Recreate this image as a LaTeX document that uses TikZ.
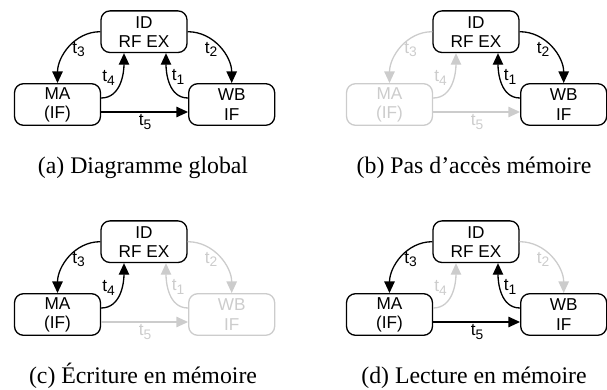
\documentclass[tikz,border=0pt]{standalone}
\usepackage{fontspec}
\setmainfont{Liberation Serif}
\setsansfont{Liberation Sans}
\usetikzlibrary{arrows.meta,calc}
\definecolor{dimgray}{HTML}{CCCCCC}
\newcommand\tsub[1]{t\raisebox{-0.4ex}{\fontsize{6.9}{7}\selectfont #1}}
\tikzset{
  stbox/.style={draw, rounded corners=4.5pt, line width=0.65pt, minimum width=43pt, minimum height=20.8pt,
    inner sep=0pt, align=center, font=\sffamily\fontsize{8.6}{9.6}\selectfont},
  conn/.style={line width=0.65pt, -{Triangle[length=5.8pt,width=5.2pt]}},
  lab/.style={font=\sffamily\fontsize{8.6}{9.6}\selectfont, inner sep=0pt},
  captext/.style={font=\fontsize{11.9}{14}\selectfont, anchor=base, inner sep=0pt},
  dimmed/.style={color=dimgray},
  nID/.style={}, nMA/.style={}, nWB/.style={},
  k1/.style={}, k2/.style={}, k3/.style={}, k4/.style={}, k5/.style={}
}
\newcommand\panelbody[1]{%
  \node[stbox, nID] (#1ID) at (144,-31.7) {ID\\RF EX};
  \node[stbox, nMA] (#1MA) at (57.5,-104.5) {MA\\(IF)};
  \node[stbox, nWB] (#1WB) at (231.7,-104.5) {WB\\IF};
  \draw[conn, k3] (#1ID.west) to[out=180,in=90] (#1MA.north);
  \draw[conn, k2] (#1ID.east) to[out=0,in=90] (#1WB.north);
  \draw[conn, k4] ($(#1MA.east)+(0,6.5)$) to[out=0,in=-90] ($(#1ID.south)+(-20,0)$);
  \draw[conn, k1] ($(#1WB.west)+(0,6.5)$) to[out=180,in=-90] ($(#1ID.south)+(22,0)$);
  \draw[conn, k5] ($(#1MA.east)+(0,-7.5)$) -- ($(#1WB.west)+(0,-7.5)$);
  \node[lab, k3] (#1L3) at (78.5,-49.5) {\tsub{3}};
  \node[lab, k2] (#1L2) at (211,-49.5) {\tsub{2}};
  \node[lab, k4] (#1L4) at (108.5,-78) {\tsub{4}};
  \node[lab, k1] (#1L1) at (178,-77) {\tsub{1}};
  \node[lab, k5] (#1L5) at (145,-122) {\tsub{5}};
}
\begin{document}
\begin{tikzpicture}[x=0.5pt,y=0.5pt]
\useasboundingbox (0,0) rectangle (607,-390);
\begin{scope}
  \panelbody{a}
  \node[captext] (capa) at (143,-173.5) {(a) Diagramme global};
\end{scope}
\begin{scope}[shift={(332,0)}, nMA/.style=dimmed, k3/.style=dimmed, k4/.style=dimmed, k5/.style=dimmed]
  \panelbody{b}
  \node[captext] (capb) at (142,-173.5) {(b) Pas d’accès mémoire};
\end{scope}
\begin{scope}[shift={(0,-210)}, nWB/.style=dimmed, k1/.style=dimmed, k2/.style=dimmed, k5/.style=dimmed]
  \panelbody{c}
  \node[captext] (capc) at (143,-173.5) {(c) Écriture en mémoire};
\end{scope}
\begin{scope}[shift={(332,-210)}, k2/.style=dimmed, k4/.style=dimmed]
  \panelbody{d}
  \node[captext] (capd) at (142,-173.5) {(d) Lecture en mémoire};
\end{scope}
\end{tikzpicture}
\end{document}
